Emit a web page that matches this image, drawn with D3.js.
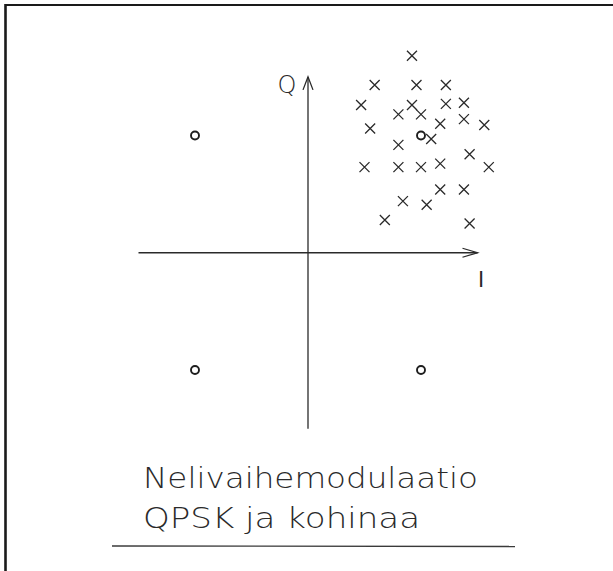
<!DOCTYPE html>
<html>
<head>
<meta charset="utf-8">
<script src="https://cdn.jsdelivr.net/npm/d3@7"></script>
<style>
  html, body { margin: 0; padding: 0; background: #fff; }
  svg { display: block; }
  text { font-family: "DejaVu Sans", "Open Sans", sans-serif; fill: #2a2a2a; }
</style>
</head>
<body>
<svg id="chart" width="613" height="571"></svg>
<script>
// Ideal QPSK constellation points (I, Q)
const idealI = [-1, 1, -1, 1];
const idealQ = [1, 1, -1, -1];

// Received symbols around the (1, 1) point, disturbed by noise
const noisyI = [0.92, 0.59, 0.96, 1.22, 0.47, 0.92, 1.22, 1.38, 0.80, 1.00,
                1.38, 1.17, 1.56, 0.55, 1.09, 0.80, 1.43, 0.50, 0.80, 1.00,
                1.17, 1.60, 1.17, 1.38, 0.84, 1.05, 0.68, 1.43];
const noisyQ = [1.68, 1.43, 1.43, 1.43, 1.26, 1.26, 1.27, 1.28, 1.18, 1.18,
                1.14, 1.10, 1.09, 1.06, 0.97, 0.92, 0.84, 0.73, 0.73, 0.73,
                0.76, 0.73, 0.54, 0.54, 0.44, 0.41, 0.28, 0.25];

const axisExtent = [-1.5, 1.5];
const axisLabels = ["I", "Q"];
const titleLines = ["Nelivaihemodulaatio", "QPSK ja kohinaa"];

const ink = "#2a2a2a";
const svg = d3.select("#chart");

const x = d3.scaleLinear().domain([-1, 1]).range([195, 421]);
const y = d3.scaleLinear().domain([-1, 1]).range([370, 135.5]);

// Frame: top and left edges
svg.append("line").attr("x1", 5).attr("y1", 5).attr("x2", 613).attr("y2", 5)
  .attr("stroke", "#1a1a1a").attr("stroke-width", 2.2);
svg.append("line").attr("x1", 5.5).attr("y1", 4).attr("x2", 5.5).attr("y2", 571)
  .attr("stroke", "#1a1a1a").attr("stroke-width", 2.6);

// Axes with open arrowheads
const axes = svg.append("g").attr("stroke", ink).attr("stroke-width", 1.3).attr("fill", "none");
const x0 = x(axisExtent[0]), x1 = x(axisExtent[1]);
const y0 = y(axisExtent[0]), y1 = y(axisExtent[1]);
axes.append("line").attr("x1", x0).attr("y1", y(0)).attr("x2", x1).attr("y2", y(0));
axes.append("line").attr("x1", x(0)).attr("y1", y0).attr("x2", x(0)).attr("y2", y1);
axes.append("path").attr("d", `M${x1 - 15},${y(0) - 4.5}L${x1},${y(0)}L${x1 - 15},${y(0) + 4.5}`);
axes.append("path").attr("d", `M${x(0) - 5},${y1 + 13}L${x(0)},${y1}L${x(0) + 5},${y1 + 13}`);

svg.append("text").attr("x", x1 + 3.5).attr("y", y(0) + 34)
  .attr("text-anchor", "middle").attr("font-size", 21)
  .text(axisLabels[0]);
svg.append("text").attr("x", x(0) - 21).attr("y", y1 + 16.5)
  .attr("text-anchor", "middle").attr("font-size", 24).attr("font-weight", 200)
  .text(axisLabels[1]);

// Noisy received symbols as crosses
const s = 5;
svg.append("g").attr("stroke", ink).attr("stroke-width", 1.3)
  .selectAll("path").data(d3.range(noisyI.length)).join("path")
  .attr("d", i => {
    const cx = x(noisyI[i]), cy = y(noisyQ[i]);
    return `M${cx - s},${cy - s}L${cx + s},${cy + s}M${cx - s},${cy + s}L${cx + s},${cy - s}`;
  });

// Ideal constellation points as small circles
svg.append("g").attr("fill", "none").attr("stroke", "#1e1e1e").attr("stroke-width", 1.9)
  .selectAll("circle").data(d3.range(idealI.length)).join("circle")
  .attr("cx", i => x(idealI[i])).attr("cy", i => y(idealQ[i])).attr("r", 4);

// Caption and underline
svg.append("text").attr("x", 143).attr("y", 488).attr("font-size", 28).attr("font-weight", 200)
  .attr("textLength", 335).attr("lengthAdjust", "spacingAndGlyphs").text(titleLines[0]);
svg.append("text").attr("x", 143).attr("y", 528).attr("font-size", 28).attr("font-weight", 200)
  .attr("textLength", 277).attr("lengthAdjust", "spacingAndGlyphs").text(titleLines[1]);
svg.append("line").attr("x1", 112).attr("y1", 546).attr("x2", 515).attr("y2", 546.5)
  .attr("stroke", "#3a3a3a").attr("stroke-width", 1.3);
</script>
</body>
</html>
